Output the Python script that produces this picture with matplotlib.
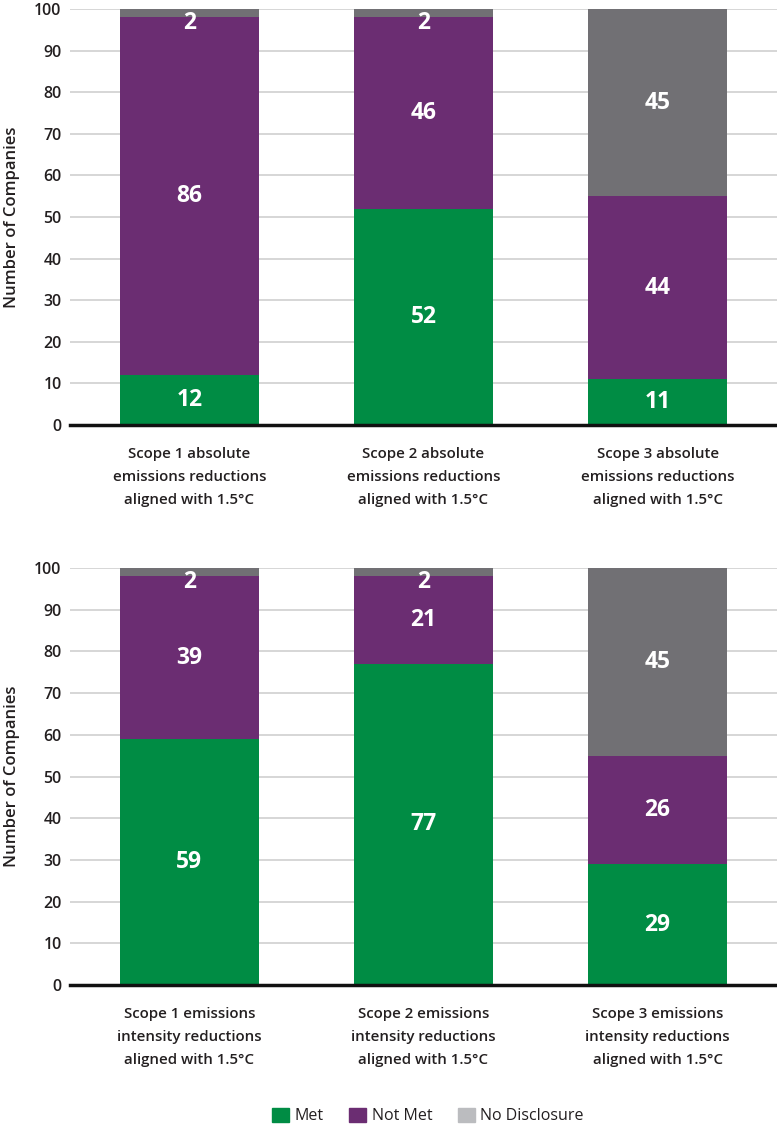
import matplotlib.pyplot as plt
import numpy as np
from matplotlib.patches import Patch

plt.rcParams['font.family'] = ['Open Sans', 'DejaVu Sans']

# data
top_labels = ['Scope 1 absolute\nemissions reductions\naligned with 1.5°C',
              'Scope 2 absolute\nemissions reductions\naligned with 1.5°C',
              'Scope 3 absolute\nemissions reductions\naligned with 1.5°C']
top_met = [12, 52, 11]
top_not_met = [86, 46, 44]
top_no_disc = [2, 2, 45]

bottom_labels = ['Scope 1 emissions\nintensity reductions\naligned with 1.5°C',
                 'Scope 2 emissions\nintensity reductions\naligned with 1.5°C',
                 'Scope 3 emissions\nintensity reductions\naligned with 1.5°C']
bottom_met = [59, 77, 29]
bottom_not_met = [39, 21, 26]
bottom_no_disc = [2, 2, 45]

green = '#008C44'
purple = '#6B2D72'
dark_gray = '#717074'
light_gray = '#BBBCBF'
text_color = '#231F20'


def draw_panel(ax, labels, met, not_met, no_disc):
    x = np.arange(len(labels))
    w = 0.594
    met = np.array(met)
    not_met = np.array(not_met)
    no_disc = np.array(no_disc)
    ax.bar(x, met, w, color=green, zorder=3)
    ax.bar(x, not_met, w, bottom=met, color=purple, zorder=3)
    ax.bar(x, no_disc, w, bottom=met + not_met, color=dark_gray, zorder=3)
    for i in range(len(x)):
        bottoms = [0, met[i], met[i] + not_met[i]]
        for b, v in zip(bottoms, [met[i], not_met[i], no_disc[i]]):
            ypos = b + v / 2 if v > 5 else 96.6
            ax.text(x[i], ypos, str(v), ha='center', va='center', color='white',
                    fontsize=16.5, fontweight='bold', zorder=4)
    ax.set_xlim(-0.51, 2.51)
    ax.set_ylim(0, 100)
    ax.set_yticks(range(0, 101, 10))
    ax.yaxis.grid(True, color='#D3D3D3', linewidth=1.3, zorder=0)
    ax.set_axisbelow(True)
    for s in ['top', 'right', 'left']:
        ax.spines[s].set_visible(False)
    ax.spines['bottom'].set_linewidth(2.5)
    ax.spines['bottom'].set_color('#111111')
    ax.spines['bottom'].set_zorder(5)
    ax.tick_params(axis='y', length=0, labelsize=11.5, colors=text_color, pad=6)
    ax.tick_params(axis='x', length=0, pad=16)
    ax.set_xticks(x)
    ax.set_xticklabels(labels, fontsize=10.8, color=text_color, fontweight='semibold',
                       linespacing=1.82)
    ax.set_ylabel('Number of Companies', fontsize=12, color=text_color, fontweight='semibold')
    ax.yaxis.set_label_coords(-0.071, 0.5)
    for t in ax.get_yticklabels():
        t.set_fontweight('semibold')


fig = plt.figure(figsize=(7.77, 11.27), dpi=100)
ax1 = fig.add_axes([0.090, 0.6229, 0.910, 0.369])
ax2 = fig.add_axes([0.090, 0.126, 0.910, 0.370])
draw_panel(ax1, top_labels, top_met, top_not_met, top_no_disc)
draw_panel(ax2, bottom_labels, bottom_met, bottom_not_met, bottom_no_disc)

handles = [Patch(color=green, label='Met'),
           Patch(color=purple, label='Not Met'),
           Patch(color=light_gray, label='No Disclosure')]
leg = fig.legend(handles=handles, loc='center', bbox_to_anchor=(0.551, 0.0098), ncol=3,
                 frameon=False, fontsize=11.5, handlelength=1.05, handleheight=1.05,
                 handletextpad=0.35, columnspacing=1.6)
for t in leg.get_texts():
    t.set_color(text_color)

fig.savefig('out.png', dpi=100)
